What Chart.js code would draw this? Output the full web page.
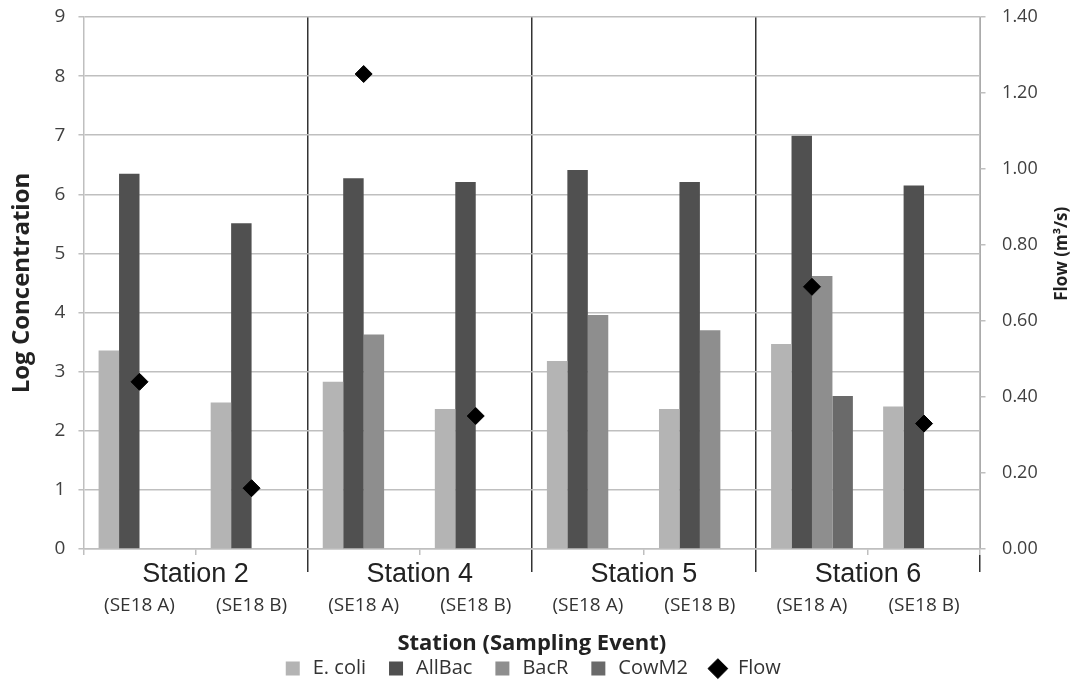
<!DOCTYPE html>
<html lang="en">
<head>
<meta charset="UTF-8">
<title>Log Concentration and Flow by Station</title>
<script src="https://cdn.jsdelivr.net/npm/chart.js"></script>
<style>
  html, body { margin: 0; padding: 0; background: #fff; }
  canvas { display: block; }
</style>
</head>
<body>
<canvas id="stationChart" width="1080" height="683"></canvas>
<script>
// values
const stations = ['Station 2', 'Station 4', 'Station 5', 'Station 6'];
const events = ['(SE18 A)', '(SE18 B)', '(SE18 A)', '(SE18 B)', '(SE18 A)', '(SE18 B)', '(SE18 A)', '(SE18 B)'];
const eColi  = [3.36, 2.48, 2.83, 2.37, 3.18, 2.37, 3.47, 2.41];
const allBac = [6.35, 5.51, 6.27, 6.21, 6.41, 6.21, 6.99, 6.15];
const bacR   = [null, null, 3.63, null, 3.96, 3.70, 4.62, null];
const cowM2  = [null, null, null, null, null, null, 2.59, null];
const flow   = [0.44, 0.16, 1.25, 0.35, null, null, 0.69, 0.33];
const concMax = 9;
const flowMax = 1.4;
const flowTitle = 'Flow (m\u00b3/s)';

const gridGray = '#bfbfbf';
const sepDark = '#333333';

Chart.defaults.font.family = '"Open Sans", sans-serif';
Chart.defaults.color = '#404040';

// right axis title reads bottom-to-top like the left one
const rightTitle = {
    id: 'rightTitle',
    afterDraw(chart) {
        const s = chart.scales.y1;
        const area = chart.chartArea;
        const ctx = chart.ctx;
        ctx.save();
        ctx.translate(s.right - 18, area.top + (area.bottom - area.top) * 0.445);
        ctx.rotate(-Math.PI / 2);
        ctx.font = 'bold 17px "Open Sans"';
        ctx.fillStyle = '#222';
        ctx.textAlign = 'center';
        ctx.textBaseline = 'middle';
        ctx.fillText(flowTitle, 0, 0);
        ctx.restore();
    }
};

function bar(label, data, color) {
    return {
        label: label,
        data: data,
        backgroundColor: color,
        borderColor: color,
        borderWidth: 0,
        pointStyle: 'rect',
        categoryPercentage: 0.73,
        barPercentage: 1.0,
        order: 1
    };
}

const ctx = document.getElementById('stationChart').getContext('2d');
const stationChart = new Chart(ctx, {
    type: 'bar',
    data: {
        labels: events,
        datasets: [
            bar('E. coli', eColi, '#b4b4b4'),
            bar('AllBac', allBac, '#505050'),
            bar('BacR', bacR, '#8e8e8e'),
            bar('CowM2', cowM2, '#6a6a6a'),
            {
                type: 'line',
                label: 'Flow',
                data: flow,
                yAxisID: 'y1',
                showLine: false,
                pointStyle: 'rectRot',
                pointRadius: 8.5,
                pointBorderWidth: 1,
                backgroundColor: '#000',
                borderColor: '#000',
                order: 0
            }
        ]
    },
    plugins: [rightTitle],
    options: {
        responsive: false,
        animation: false,
        layout: { padding: { top: 17, bottom: -5.6, left: 0, right: 0 } },
        plugins: {
            tooltip: { enabled: false },
            legend: {
                position: 'bottom',
                fullSize: false,
                labels: {
                    usePointStyle: true,
                    boxHeight: 14,
                    padding: 20,
                    color: '#333',
                    font: { size: 20 },
                    sort: (a, b) => a.datasetIndex - b.datasetIndex
                }
            }
        },
        scales: {
            x: {
                type: 'category',
                offset: true,
                weight: 0,
                grid: {
                    offset: true,
                    drawOnChartArea: false,
                    tickLength: 6,
                    lineWidth: 1.5,
                    color: c => (c.index === 2 || c.index === 4 || c.index === 6) ? sepDark : gridGray
                },
                border: { color: gridGray, width: 1.5 },
                ticks: { display: false }
            },
            x2: {
                type: 'category',
                position: 'bottom',
                labels: stations,
                offset: true,
                weight: 1,
                grid: {
                    offset: true,
                    tickLength: 17,
                    lineWidth: 1.5,
                    color: c => (c.index === 0 || c.index === stations.length) ? 'rgba(0,0,0,0)' : sepDark
                },
                border: { display: false },
                ticks: {
                    padding: -13.2,
                    color: '#222',
                    font: { family: '"Liberation Sans", Arial, sans-serif', size: 27 }
                },
                // blank title only keeps room under the station names
                title: {
                    display: true,
                    text: ' ',
                    font: { size: 1 },
                    padding: { top: 0, bottom: 4 }
                }
            },
            x3: {
                type: 'category',
                position: 'bottom',
                labels: events,
                offset: true,
                weight: 2,
                grid: { display: false },
                border: { display: false },
                ticks: {
                    padding: 3.4,
                    color: '#333',
                    font: { size: 19 }
                },
                title: {
                    display: true,
                    text: 'Station (Sampling Event)',
                    color: '#222',
                    font: { size: 22, weight: 'bold' },
                    padding: { top: 10.2, bottom: -18.8 }
                }
            },
            y: {
                position: 'left',
                min: 0,
                max: concMax,
                ticks: {
                    stepSize: 1,
                    padding: 3,
                    color: '#404040',
                    font: { size: 19 }
                },
                grid: {
                    color: gridGray,
                    lineWidth: 1.5,
                    tickLength: 15,
                    tickBorderDash: [0, 10, 5, 0]
                },
                border: { color: gridGray, width: 1.5 },
                title: {
                    display: true,
                    text: 'Log Concentration',
                    color: '#222',
                    font: { size: 24, weight: 'bold' },
                    padding: { top: 7.6, bottom: 15.2 }
                }
            },
            y1: {
                position: 'right',
                min: 0,
                max: flowMax,
                ticks: {
                    stepSize: 0.2,
                    padding: 5,
                    color: '#404040',
                    font: { size: 18 },
                    callback: v => Number(v).toFixed(2)
                },
                grid: {
                    drawOnChartArea: false,
                    color: gridGray,
                    lineWidth: 1.5,
                    tickLength: 17,
                    tickBorderDash: [5, 100]
                },
                border: { color: gridGray, width: 1.5 },
                title: {
                    display: true,
                    text: flowTitle,
                    color: 'rgba(0,0,0,0)',
                    font: { size: 17, weight: 'bold' },
                    padding: { top: 0, bottom: 16.9 }
                }
            }
        }
    }
});
</script>
</body>
</html>
